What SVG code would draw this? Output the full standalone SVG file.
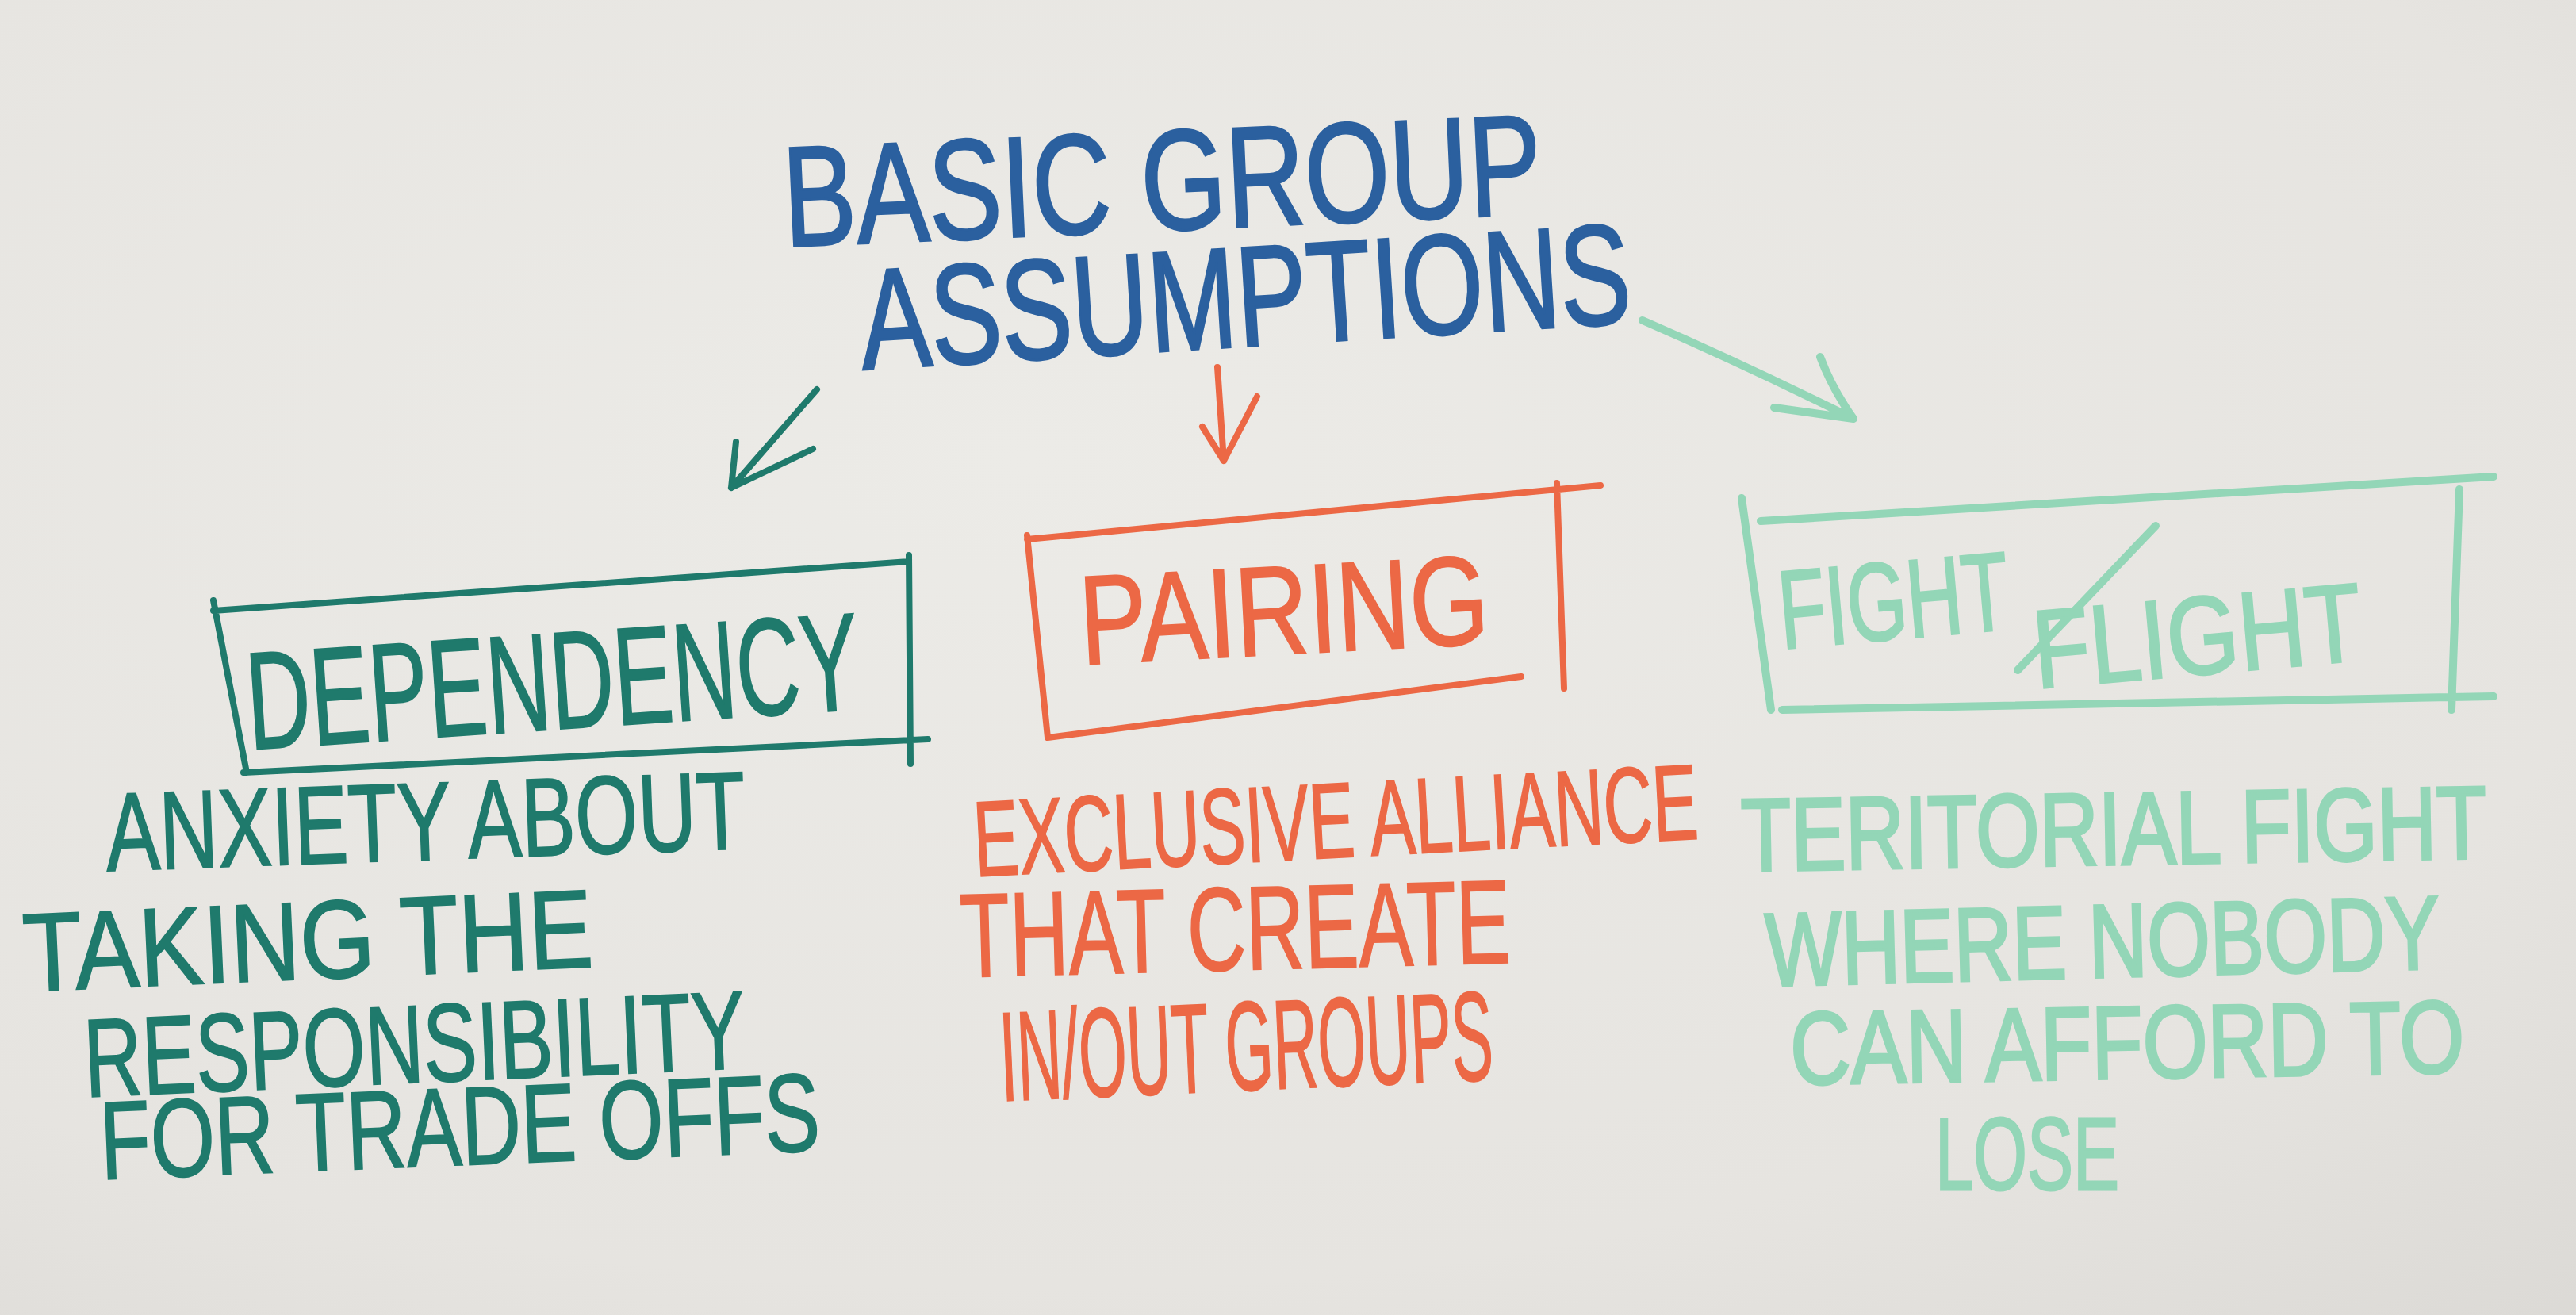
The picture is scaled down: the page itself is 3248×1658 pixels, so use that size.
<svg xmlns="http://www.w3.org/2000/svg" width="3248" height="1658" viewBox="0 0 3248 1658">
  <defs>
    <radialGradient id="paper" cx="0.4" cy="0.35" r="0.9">
      <stop offset="0" stop-color="#ecebe7"/>
      <stop offset="0.7" stop-color="#e6e4e0"/>
      <stop offset="1" stop-color="#dbd9d5"/>
    </radialGradient>
  </defs>
  <style>
    text { font-family: "Liberation Sans", Arial, sans-serif; }
    .line { fill: none; stroke-linecap: round; stroke-linejoin: round; }
    .blue { fill: #2b609f; stroke: #2b609f; stroke-width: 3; }
    .teal { fill: #1f7a6c; stroke: #1f7a6c; stroke-width: 2; }
    .orange { fill: #ec6845; stroke: #ec6845; stroke-width: 2; }
    .mint { fill: #93d6b7; stroke: #93d6b7; stroke-width: 3; }
    .teal-l { stroke: #1f7a6c; stroke-width: 8; }
    .orange-l { stroke: #ec6845; stroke-width: 8; }
    .mint-l { stroke: #93d6b7; stroke-width: 10; }
  </style>
  <rect x="0" y="0" width="3248" height="1658" fill="url(#paper)"/>

  <g id="title">
    <text class="blue" x="990" y="311" font-size="180" textLength="957" lengthAdjust="spacingAndGlyphs" transform="rotate(-2.5 990 311)">BASIC GROUP</text>
    <text class="blue" x="1088" y="466" font-size="180" textLength="973" lengthAdjust="spacingAndGlyphs" transform="rotate(-3.5 1088 466)">ASSUMPTIONS</text>
  </g>

  <g id="connectors">
    <path class="line teal-l" d="M1030,491 L922,615 M928,557 L922,615 L1025,566"/>
    <path class="line orange-l" d="M1535,463 L1543,581 M1516,538 L1543,581 L1585,500"/>
    <path class="line mint-l" d="M2071,404 Q2200,460 2337,528 M2295,450 Q2310,490 2337,528 L2237,514"/>
  </g>

  <g id="dependency">
    <path class="line teal-l" d="M269,770 L1146,708 M1146,700 L1148,963 M307,974 L1170,932 M269,757 L311,974"/>
    <text class="teal" x="315" y="945" font-size="175" textLength="773" lengthAdjust="spacingAndGlyphs" transform="rotate(-3.8 315 945)">DEPENDENCY</text>
    <text class="teal" x="135" y="1098" font-size="140" textLength="807" lengthAdjust="spacingAndGlyphs" transform="rotate(-2 135 1098)">ANXIETY ABOUT</text>
    <text class="teal" x="31" y="1250" font-size="140" textLength="719" lengthAdjust="spacingAndGlyphs" transform="rotate(-2.5 31 1250)">TAKING THE</text>
    <text class="teal" x="108" y="1383" font-size="140" textLength="834" lengthAdjust="spacingAndGlyphs" transform="rotate(-2.5 108 1383)">RESPONSIBILITY</text>
    <text class="teal" x="128" y="1487" font-size="140" textLength="908" lengthAdjust="spacingAndGlyphs" transform="rotate(-2.3 128 1487)">FOR TRADE OFFS</text>
  </g>

  <g id="pairing">
    <path class="line orange-l" d="M1295,680 L2018,612 M1963,609 L1972,868 M1321,930 L1918,853 M1295,675 L1321,930"/>
    <text class="orange" x="1364" y="838" font-size="160" textLength="516" lengthAdjust="spacingAndGlyphs" transform="rotate(-3 1364 838)">PAIRING</text>
    <text class="orange" x="1230" y="1105" font-size="135" textLength="914" lengthAdjust="spacingAndGlyphs" transform="rotate(-3 1230 1105)">EXCLUSIVE ALLIANCE</text>
    <text class="orange" x="1212" y="1232" font-size="150" textLength="694" lengthAdjust="spacingAndGlyphs" transform="rotate(-1.5 1212 1232)">THAT CREATE</text>
    <text class="orange" x="1263" y="1388" font-size="160" textLength="622" lengthAdjust="spacingAndGlyphs" transform="rotate(-2.5 1263 1388)">IN/OUT GROUPS</text>
  </g>

  <g id="fight-flight">
    <path class="line mint-l" d="M2220,657 L3144,601 M2196,628 L2233,895 M2247,895 L3144,878 M3101,617 L3091,895 M2544,845 L2718,663"/>
    <text class="mint" x="2247" y="818" font-size="140" textLength="291" lengthAdjust="spacingAndGlyphs" transform="rotate(-5 2247 818)">FIGHT</text>
    <text class="mint" x="2568" y="868" font-size="140" textLength="415" lengthAdjust="spacingAndGlyphs" transform="rotate(-5 2568 868)">FLIGHT</text>
    <text class="mint" x="0" y="0" font-size="103" textLength="940" lengthAdjust="spacingAndGlyphs" transform="translate(2196 1098) rotate(-1) scale(1 1.26)">TERITORIAL FIGHT</text>
    <text class="mint" x="0" y="0" font-size="102" textLength="850" lengthAdjust="spacingAndGlyphs" transform="translate(2227 1243) rotate(-1.5) scale(1 1.28)">WHERE NOBODY</text>
    <text class="mint" x="0" y="0" font-size="104" textLength="850" lengthAdjust="spacingAndGlyphs" transform="translate(2258 1367) rotate(-1) scale(1 1.25)">CAN AFFORD TO</text>
    <text class="mint" x="2440" y="1500" font-size="130" textLength="232" lengthAdjust="spacingAndGlyphs">LOSE</text>
  </g>
</svg>
